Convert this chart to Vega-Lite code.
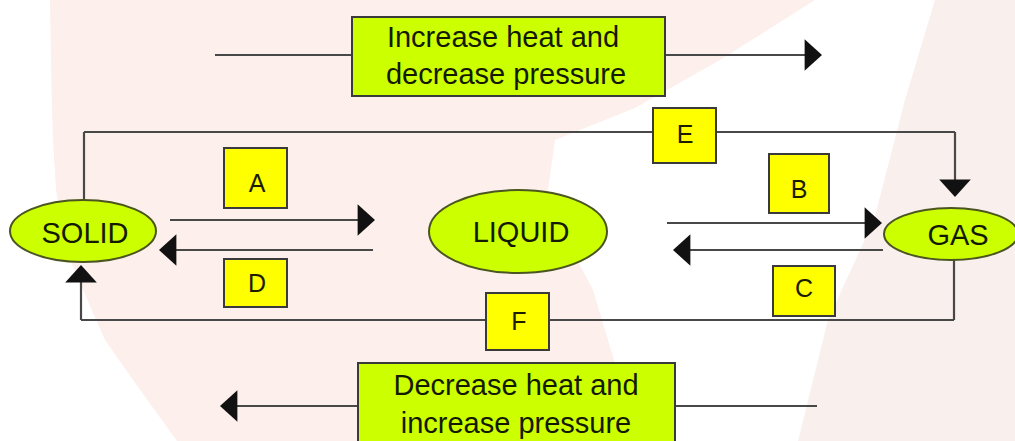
{
  "$schema": "https://vega.github.io/schema/vega-lite/v6.json",
  "width": 1015,
  "height": 441,
  "autosize": {"type": "none"},
  "padding": 0,
  "background": "#ffffff",
  "config": {"view": {"stroke": null}},
  "datasets": {
    "bgLeft": [
      {"y": 0, "xl": 50, "xr": 815},
      {"y": 60, "xl": 51, "xr": 720},
      {"y": 108, "xl": 52, "xr": 635},
      {"y": 140, "xl": 53, "xr": 555},
      {"y": 190, "xl": 56, "xr": 548},
      {"y": 250, "xl": 66, "xr": 572},
      {"y": 290, "xl": 83, "xr": 593},
      {"y": 340, "xl": 105, "xr": 608},
      {"y": 380, "xl": 133, "xr": 620},
      {"y": 441, "xl": 177, "xr": 633}
    ],
    "bgRight": [
      {"y": 0, "xl": 935, "xr": 1015},
      {"y": 100, "xl": 905, "xr": 1015},
      {"y": 220, "xl": 874, "xr": 1015},
      {"y": 320, "xl": 828, "xr": 1015},
      {"y": 441, "xl": 798, "xr": 1015}
    ],
    "segments": [
      {"x": 215, "y": 55, "x2": 806, "y2": 55},
      {"x": 84, "y": 200, "x2": 84, "y2": 132},
      {"x": 84, "y": 132, "x2": 955, "y2": 132},
      {"x": 955, "y": 132, "x2": 955, "y2": 185},
      {"x": 170, "y": 220, "x2": 362, "y2": 220},
      {"x": 373, "y": 250, "x2": 172, "y2": 250},
      {"x": 81, "y": 320, "x2": 81, "y2": 278},
      {"x": 81, "y": 320, "x2": 954, "y2": 320},
      {"x": 954, "y": 260, "x2": 954, "y2": 320},
      {"x": 667, "y": 223, "x2": 870, "y2": 223},
      {"x": 883, "y": 250, "x2": 685, "y2": 250},
      {"x": 230, "y": 406, "x2": 817, "y2": 406}
    ],
    "heads": [
      {"x": 822, "y": 55, "dir": "right"},
      {"x": 955, "y": 197, "dir": "down"},
      {"x": 375, "y": 220, "dir": "right"},
      {"x": 159, "y": 250, "dir": "left"},
      {"x": 81, "y": 265, "dir": "up"},
      {"x": 882, "y": 223, "dir": "right"},
      {"x": 673, "y": 250, "dir": "left"},
      {"x": 220, "y": 406, "dir": "left"}
    ],
    "boxes": [
      {"name": "top", "x": 352, "x2": 665, "y": 17, "y2": 96},
      {"name": "bottom", "x": 358, "x2": 675, "y": 363, "y2": 446}
    ],
    "boxText": [
      {"text": "Increase heat and", "x": 503, "y": 47},
      {"text": "decrease pressure", "x": 506, "y": 84},
      {"text": "Decrease heat and", "x": 516, "y": 395},
      {"text": "increase pressure", "x": 516, "y": 433}
    ],
    "tags": [
      {"tag": "A", "x": 224, "x2": 287, "y": 148, "y2": 208, "tx": 257, "ty": 192},
      {"tag": "D", "x": 224, "x2": 287, "y": 259, "y2": 307, "tx": 257, "ty": 292},
      {"tag": "E", "x": 653, "x2": 716, "y": 108, "y2": 163, "tx": 685, "ty": 143},
      {"tag": "B", "x": 769, "x2": 829, "y": 154, "y2": 213, "tx": 799, "ty": 198},
      {"tag": "C", "x": 773, "x2": 835, "y": 266, "y2": 316, "tx": 804, "ty": 297},
      {"tag": "F", "x": 486, "x2": 549, "y": 293, "y2": 350, "tx": 519, "ty": 330}
    ],
    "nodes": [
      {"node": "SOLID", "x": 83, "y": 231, "tx": 85, "ty": 243},
      {"node": "LIQUID", "x": 518, "y": 231.5, "tx": 521, "ty": 242},
      {"node": "GAS", "x": 951, "y": 234, "tx": 958, "ty": 245}
    ]
  },
  "layer": [
    {
      "data": {"name": "bgLeft"},
      "mark": {"type": "area", "orient": "horizontal", "color": "#fcefec", "interpolate": "linear"},
      "encoding": {
        "y": {"field": "y", "type": "quantitative", "scale": {"domain": [0, 441], "reverse": true, "nice": false, "zero": false}, "axis": null},
        "x": {"field": "xl", "type": "quantitative", "scale": {"domain": [0, 1015], "nice": false, "zero": false}, "axis": null},
        "x2": {"field": "xr"}
      }
    },
    {
      "data": {"name": "bgRight"},
      "mark": {"type": "area", "orient": "horizontal", "color": "#f9efed", "interpolate": "linear"},
      "encoding": {
        "y": {"field": "y", "type": "quantitative", "axis": null},
        "x": {"field": "xl", "type": "quantitative", "axis": null},
        "x2": {"field": "xr"}
      }
    },
    {
      "data": {"name": "segments"},
      "mark": {"type": "rule", "color": "#484848", "strokeWidth": 2.2},
      "encoding": {
        "x": {"field": "x", "type": "quantitative", "axis": null},
        "y": {"field": "y", "type": "quantitative", "axis": null},
        "x2": {"field": "x2"},
        "y2": {"field": "y2"}
      }
    },
    {
      "data": {"name": "heads"},
      "mark": {"type": "point", "filled": true, "color": "#111111", "opacity": 1, "size": 1000, "strokeWidth": 0},
      "encoding": {
        "x": {"field": "x", "type": "quantitative", "axis": null},
        "y": {"field": "y", "type": "quantitative", "axis": null},
        "shape": {"field": "dir", "type": "nominal", "scale": {"domain": ["right", "down", "left", "up"], "range": ["M0,0L-1.1,-1L-1.1,1Z", "M0,0L-1,-1.1L1,-1.1Z", "M0,0L1.1,-1L1.1,1Z", "M0,0L-1,1.1L1,1.1Z"]}, "legend": null}
      }
    },
    {
      "data": {"name": "boxes"},
      "mark": {"type": "rect", "fill": "#ccff00", "stroke": "#3a3a3a", "strokeWidth": 2},
      "encoding": {
        "x": {"field": "x", "type": "quantitative", "axis": null},
        "x2": {"field": "x2"},
        "y": {"field": "y", "type": "quantitative", "axis": null},
        "y2": {"field": "y2"}
      }
    },
    {
      "data": {"name": "tags"},
      "mark": {"type": "rect", "fill": "#ffff00", "stroke": "#3a3a3a", "strokeWidth": 2},
      "encoding": {
        "x": {"field": "x", "type": "quantitative", "axis": null},
        "x2": {"field": "x2"},
        "y": {"field": "y", "type": "quantitative", "axis": null},
        "y2": {"field": "y2"}
      }
    },
    {
      "data": {"name": "nodes"},
      "transform": [{"filter": "datum.node === 'SOLID'"}],
      "mark": {"type": "point", "shape": "M-1,0C-1,-0.2347,-0.5523,-0.425,0,-0.425C0.5523,-0.425,1,-0.2347,1,0C1,0.2347,0.5523,0.425,0,0.425C-0.5523,0.425,-1,0.2347,-1,0Z", "size": 21316, "filled": true, "fill": "#ccff00", "stroke": "#4b5520", "strokeWidth": 2, "opacity": 1},
      "encoding": {
        "x": {"field": "x", "type": "quantitative", "axis": null},
        "y": {"field": "y", "type": "quantitative", "axis": null}
      }
    },
    {
      "data": {"name": "nodes"},
      "transform": [{"filter": "datum.node === 'LIQUID'"}],
      "mark": {"type": "point", "shape": "M-1,0C-1,-0.2574,-0.5523,-0.466,0,-0.466C0.5523,-0.466,1,-0.2574,1,0C1,0.2574,0.5523,0.466,0,0.466C-0.5523,0.466,-1,0.2574,-1,0Z", "size": 31684, "filled": true, "fill": "#ccff00", "stroke": "#4b5520", "strokeWidth": 2, "opacity": 1},
      "encoding": {
        "x": {"field": "x", "type": "quantitative", "axis": null},
        "y": {"field": "y", "type": "quantitative", "axis": null}
      }
    },
    {
      "data": {"name": "nodes"},
      "transform": [{"filter": "datum.node === 'GAS'"}],
      "mark": {"type": "point", "shape": "M-1,0C-1,-0.2143,-0.5523,-0.388,0,-0.388C0.5523,-0.388,1,-0.2143,1,0C1,0.2143,0.5523,0.388,0,0.388C-0.5523,0.388,-1,0.2143,-1,0Z", "size": 17956, "filled": true, "fill": "#ccff00", "stroke": "#4b5520", "strokeWidth": 2, "opacity": 1},
      "encoding": {
        "x": {"field": "x", "type": "quantitative", "axis": null},
        "y": {"field": "y", "type": "quantitative", "axis": null}
      }
    },
    {
      "data": {"name": "boxText"},
      "mark": {"type": "text", "font": "Liberation Sans", "fontSize": 29, "color": "#141a00", "align": "center", "baseline": "alphabetic"},
      "encoding": {
        "x": {"field": "x", "type": "quantitative", "axis": null},
        "y": {"field": "y", "type": "quantitative", "axis": null},
        "text": {"field": "text"}
      }
    },
    {
      "data": {"name": "tags"},
      "mark": {"type": "text", "font": "Liberation Sans", "fontSize": 25, "color": "#1c1c00", "align": "center", "baseline": "alphabetic"},
      "encoding": {
        "x": {"field": "tx", "type": "quantitative", "axis": null},
        "y": {"field": "ty", "type": "quantitative", "axis": null},
        "text": {"field": "tag"}
      }
    },
    {
      "data": {"name": "nodes"},
      "mark": {"type": "text", "font": "Liberation Sans", "fontSize": 29, "color": "#141a00", "align": "center", "baseline": "alphabetic"},
      "encoding": {
        "x": {"field": "tx", "type": "quantitative", "axis": null},
        "y": {"field": "ty", "type": "quantitative", "axis": null},
        "text": {"field": "node"}
      }
    }
  ]
}
